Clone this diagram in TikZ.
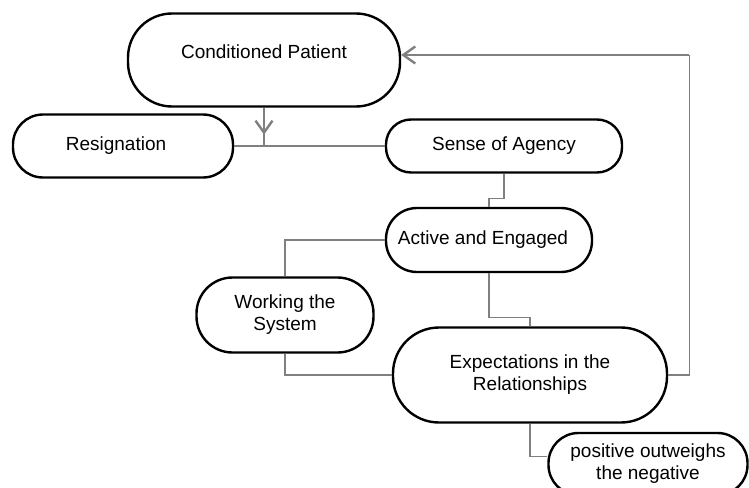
\documentclass[tikz,border=0pt]{standalone}
\usepackage{fontspec}
\setmainfont{Liberation Sans}
\usetikzlibrary{arrows.meta}

\tikzset{
  stage/.style={draw=black, line width=2.4pt, fill=white, align=center,
    font=\fontsize{19}{22}\selectfont, inner sep=0pt},
  link/.style={draw=gray, line width=1.4pt},
  flow/.style={draw=gray, line width=2.4pt,
    -{Straight Barb[length=12pt, width=17pt]}}
}

\begin{document}
\begin{tikzpicture}[x=1pt, y=-1pt]
    \useasboundingbox (0,0) rectangle (749,487);
    % Stages (rounded boxes)
    \node[stage, minimum width=272pt, minimum height=93pt, rounded corners=44pt, text depth=17pt] (patient) at (264,60) {Conditioned Patient};
    \node[stage, minimum width=220pt, minimum height=63pt, rounded corners=30pt] (resign) at (123,146) {Resignation\hspace{14pt}};
    \node[stage, minimum width=236pt, minimum height=53pt, rounded corners=25pt] (agency) at (504,146) {Sense of Agency};
    \node[stage, minimum width=206pt, minimum height=64pt, rounded corners=31pt] (active) at (489,240) {Active and Engaged\hspace{12pt}};
    \node[stage, minimum width=177pt, minimum height=75pt, rounded corners=36pt] (system) at (285,315) {Working the\\System};
    \node[stage, minimum width=274pt, minimum height=95pt, rounded corners=46pt] (expect) at (530,375) {Expectations in the\\Relationships};
    \node[stage, minimum width=199pt, minimum height=62pt, rounded corners=30pt] (positive) at (648,464) {positive outweighs\\the negative};
    % Connectors
    \coordinate (split) at (patient.south |- resign.east);
    \draw[link] (resign.east) -- (agency.west);
    \draw[link] (patient.south) -- (split);
    \draw[flow] (patient.south) -- ++(0,27);
    \draw[link] (agency.south) -- ++(0,25) -| (active.north);
    \draw[link] (active.west) -| (system.north);
    \draw[link] (active.south) -- ++(0,44) -| (expect.north);
    \draw[link] (system.south) |- (expect.west);
    \draw[link] (expect.south) -- ++(0,33) coordinate (drop) -- (drop -| positive.west);
    \draw[link] (expect.east) -- ++(21,0) coordinate (back) -- ++(0,-320) coordinate (top);
    \draw[flow] (top) -- (patient.east |- top);
\end{tikzpicture}
\end{document}
